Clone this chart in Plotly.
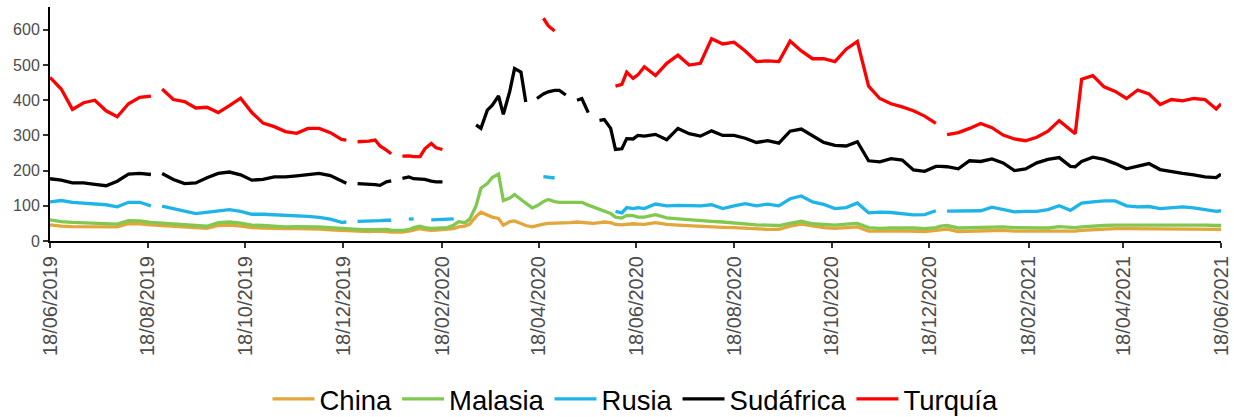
import pandas as pd
import plotly.graph_objects as go

# ---------------- data ----------------
# weekly observation dates plus a few mid-week observations
weekly_dates = list(pd.date_range("2019-06-18", periods=105, freq="7D"))
extra_dates = ["2019-08-23",
               "2019-12-20", "2019-12-27", "2020-01-03", "2020-01-10", "2020-01-17",
               "2020-01-24", "2020-01-31", "2020-02-07", "2020-02-14", "2020-02-21",
               "2020-02-28", "2020-03-06", "2020-03-13", "2020-03-20", "2020-03-27",
               "2020-04-03", "2020-04-10", "2020-04-17", "2020-04-24", "2020-05-01",
               "2020-05-08", "2020-05-15", "2020-05-22", "2020-05-29", "2020-06-05",
               "2020-06-12", "2020-06-19",
               "2020-12-25", "2021-03-19", "2021-06-18"]
dates = sorted(weekly_dates + list(pd.to_datetime(extra_dates)))

N = None
china = (
    [46, 42, 41, 41, 40, 40, 40, 49, 49, 46] + [45]
    + [44, 43, 41, 38, 36, 44, 45, 42, 38, 37, 35, 35, 35, 35, 34, 32, 30]
    + [29, 28, 28, 27, 27, 28, 28, 27, 25, 24,
       25, 28, 32, 35, 32, 30, 31, 32, 32, 35,
       40, 42, 48, 70, 82, 75, 68, 64, 45, 55,
       57, 50, 44, 40, 44, 48, 50, 50, 51, 52,
       52, 54, 53, 50, 50, 52, 54, 52, 47, 46,
       48, 49, 48]
    + [47, 52, 47, 45, 43, 42, 41, 39, 38, 36, 34, 33, 33, 42, 48, 42, 38, 36, 38, 40,
       28, 27, 28, 29, 28, 27, 30]
    + [32]
    + [34, 27, 28, 28, 30, 30, 28, 28, 27, 28, 29, 29]
    + [28]
    + [30, 32, 33, 35, 35, 35, 35, 35, 35, 34, 34, 33, 33]
    + [33]
)
malasia = (
    [60, 55, 53, 52, 51, 50, 48, 58, 57, 53] + [52]
    + [50, 49, 46, 43, 42, 52, 54, 51, 45, 44, 42, 40, 41, 41, 40, 38, 35]
    + [34, 33, 33, 32, 32, 33, 34, 33, 31, 30,
       30, 32, 38, 42, 38, 36, 37, 38, 38, 45,
       55, 52, 62, 100, 150, 163, 180, 190, 115, 122,
       132, 118, 108, 94, 100, 112, 118, 112, 110, 110,
       108, 110, 110, 102, 97, 92, 86, 78, 68, 65,
       73, 72, 68]
    + [68, 75, 66, 63, 60, 57, 56, 54, 51, 49, 46, 45, 44, 50, 56, 49, 46, 45, 48, 50,
       38, 36, 37, 38, 37, 35, 38]
    + [42]
    + [44, 37, 38, 38, 40, 40, 38, 38, 36, 37, 41, 39]
    + [38]
    + [40, 43, 44, 45, 45, 45, 45, 46, 47, 46, 46, 45, 44]
    + [44]
)
rusia = (
    [111, 115, 110, 108, 106, 103, 97, 110, 110, 100] + [N]
    + [99, 93, 85, 78, 82, 86, 89, 84, 76, 76, 75, 73, 71, 70, 67, 62, 53]
    + [54, N, 56, 56, 57, 58, 58, 59, 59, N,
       N, 62, 63, N, N, 60, 61, 60, 62, 63,
       N, N, N, N, N, N, N, N, N, N,
       N, N, N, N, N, 183, 181, 179, N, N,
       N, N, N, N, N, N, N, N, 84, 80,
       95, 92, 95]
    + [92, 105, 100, 101, 100, 100, 103, 92, 100, 106, 100, 105, 100, 120, 128, 111, 104, 92, 95, 108,
       80, 82, 81, 78, 74, 75, 86]
    + [N]
    + [85, 85, 86, 86, 96, 90, 83, 84, 84, 89, 100, 87]
    + [95]
    + [108, 111, 114, 114, 100, 97, 98, 92, 95, 97, 94, 88, 84]
    + [86]
)
sudafrica = (
    [177, 173, 165, 165, 161, 157, 170, 190, 192, 189] + [N]
    + [192, 175, 163, 165, 180, 192, 196, 188, 173, 175, 182, 182, 185, 188, 192, 186, 170]
    + [164, N, 163, 162, 163, 160, 158, 168, 171, N,
       178, 182, 177, 177, 175, 170, 168, 168, N, N,
       N, N, N, 330, 320, 372, 385, 412, 360, 425,
       490, 480, 395, N, 405, 418, 424, 428, 428, 415,
       N, 400, 405, 365, N, 343, 345, 320, 260, 262,
       291, 290, 300]
    + [298, 303, 288, 320, 305, 298, 313, 300, 300, 292, 280, 285, 278, 312, 318, 298, 280, 272, 270, 282,
       228, 225, 234, 230, 202, 198, 212]
    + [212]
    + [211, 205, 228, 226, 233, 222, 200, 205, 222, 232, 237, 212]
    + [211]
    + [226, 238, 232, 220, 205, 213, 220, 203, 197, 192, 188, 182, 180]
    + [190]
)
turquia = (
    [465, 432, 374, 393, 400, 370, 353, 390, 408, 412] + [N]
    + [432, 402, 396, 378, 380, 365, 385, 406, 365, 335, 325, 311, 306, 320, 320, 308, 289]
    + [287, N, 282, 282, 284, 287, 270, 258, 248, N,
       241, 242, 240, 240, 262, 277, 265, 260, N, N,
       N, N, N, N, N, N, N, N, N, N,
       N, N, N, N, N, 633, 612, 597, N, N,
       N, N, N, N, N, N, N, N, 440, 445,
       480, 462, 472]
    + [495, 470, 505, 528, 500, 505, 575, 560, 565, 540, 510, 512, 510, 568, 540, 518, 518, 510, 545, 567,
       440, 405, 390, 381, 370, 355, 334]
    + [N]
    + [302, 308, 320, 334, 322, 301, 290, 285, 295, 312, 342, 318]
    + [305]
    + [460, 470, 438, 425, 405, 429, 418, 388, 402, 398, 405, 402, 375]
    + [390]
)

series_names = ["China", "Malasia", "Rusia", "Sudáfrica", "Turquía"]
series_values = [china, malasia, rusia, sudafrica, turquia]
series_colors = ["#E2A63B", "#80C850", "#1EB4E8", "#000000", "#FF0000"]

tick_dates = ["2019-06-18", "2019-08-18", "2019-10-18", "2019-12-18", "2020-02-18",
              "2020-04-18", "2020-06-18", "2020-08-18", "2020-10-18", "2020-12-18",
              "2021-02-18", "2021-04-18", "2021-06-18"]
tick_labels = [pd.Timestamp(d).strftime("%d/%m/%Y") for d in tick_dates]
y_ticks = [0, 100, 200, 300, 400, 500, 600]

for v in series_values:
    assert len(v) == len(dates), (len(v), len(dates))

# ---------------- figure ----------------
fig = go.Figure()
for name, vals, col in zip(series_names, series_values, series_colors):
    fig.add_trace(go.Scatter(x=dates, y=vals, name=name, mode="lines",
                             line=dict(color=col, width=3.3), connectgaps=False))

font_family = "Liberation Sans, Arial, sans-serif"
fig.update_layout(
    width=1234, height=417,
    margin=dict(l=50, r=13, t=7, b=176, autoexpand=False),
    paper_bgcolor="white", plot_bgcolor="white",
    font=dict(family=font_family, color="#4D4D4D"),
    showlegend=True,
    legend=dict(orientation="h", x=0.5, xanchor="center", y=-0.675, yanchor="middle",
                font=dict(size=27.5, color="#000000", family=font_family),
                itemwidth=42, tracegroupgap=0, bgcolor="rgba(0,0,0,0)"),
)
fig.update_xaxes(
    range=["2019-06-18", "2021-06-18"], automargin=False,
    tickmode="array", tickvals=tick_dates, ticktext=tick_labels,
    tickangle=-90, tickfont=dict(size=20, color="#4D4D4D"),
    showgrid=False, zeroline=False,
    showline=True, linecolor="black", linewidth=2,
    ticks="outside", ticklen=5, tickwidth=1.5, tickcolor="#333333",
)
fig.update_yaxes(
    range=[0, 665], automargin=False,
    tickmode="array", tickvals=y_ticks,
    tickfont=dict(size=16, color="#4D4D4D"),
    showgrid=False, zeroline=False,
    showline=True, linecolor="black", linewidth=2,
    ticks="outside", ticklen=5, tickwidth=1.5, tickcolor="#333333",
)

fig.write_html("out.html", config={"displayModeBar": False},
               post_script="document.body.style.margin='0px';")
